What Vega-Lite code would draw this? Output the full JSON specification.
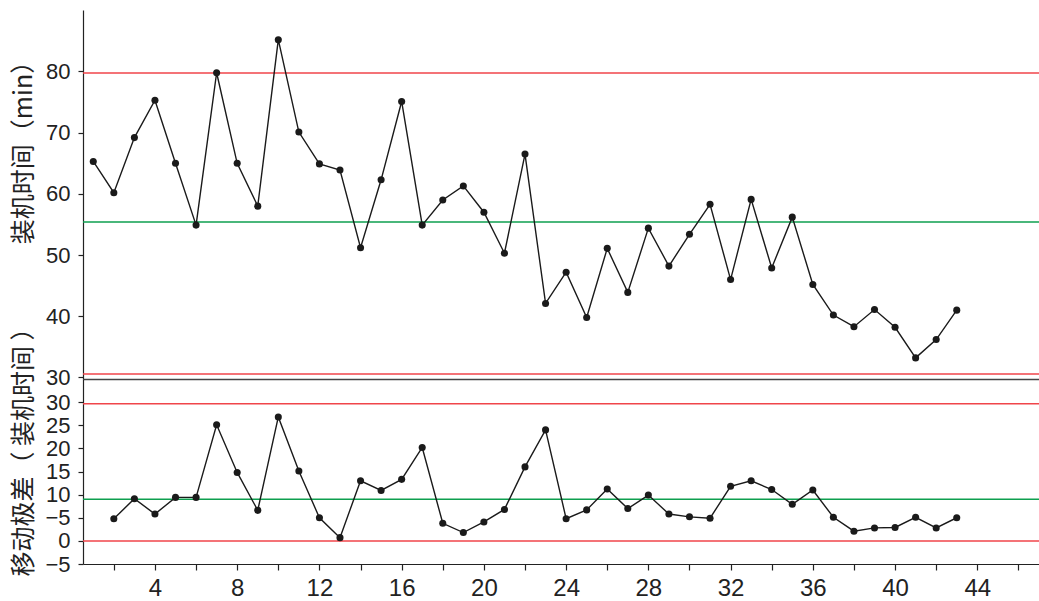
{
  "$schema": "https://vega.github.io/schema/vega-lite/v6.json",
  "padding": {"left": 10, "top": 10, "right": 0, "bottom": 0},
  "background": "white",
  "config": {
    "view": {"stroke": null},
    "font": "Liberation Sans",
    "axis": {
      "grid": false,
      "labelFont": "Liberation Sans",
      "labelFontSize": 22,
      "labelColor": "#222222",
      "labelOverlap": false,
      "domainColor": "#222222",
      "tickColor": "#222222",
      "domainWidth": 1.2,
      "tickWidth": 1.2,
      "titleFont": "Noto Sans CJK SC",
      "titleFontSize": 25,
      "titleFontWeight": "normal",
      "titleColor": "#222222"
    }
  },
  "datasets": {
    "I": [
      {"x": 1, "value": 65.3}, {"x": 2, "value": 60.2}, {"x": 3, "value": 69.2}, {"x": 4, "value": 75.3},
      {"x": 5, "value": 65.0}, {"x": 6, "value": 54.9}, {"x": 7, "value": 79.8}, {"x": 8, "value": 65.0},
      {"x": 9, "value": 58.0}, {"x": 10, "value": 85.2}, {"x": 11, "value": 70.1}, {"x": 12, "value": 64.9},
      {"x": 13, "value": 63.9}, {"x": 14, "value": 51.2}, {"x": 15, "value": 62.3}, {"x": 16, "value": 75.1},
      {"x": 17, "value": 54.9}, {"x": 18, "value": 59.0}, {"x": 19, "value": 61.3}, {"x": 20, "value": 57.0},
      {"x": 21, "value": 50.3}, {"x": 22, "value": 66.5}, {"x": 23, "value": 42.1}, {"x": 24, "value": 47.2},
      {"x": 25, "value": 39.8}, {"x": 26, "value": 51.1}, {"x": 27, "value": 43.9}, {"x": 28, "value": 54.4},
      {"x": 29, "value": 48.2}, {"x": 30, "value": 53.4}, {"x": 31, "value": 58.3}, {"x": 32, "value": 46.0},
      {"x": 33, "value": 59.1}, {"x": 34, "value": 47.9}, {"x": 35, "value": 56.2}, {"x": 36, "value": 45.2},
      {"x": 37, "value": 40.2}, {"x": 38, "value": 38.3}, {"x": 39, "value": 41.1}, {"x": 40, "value": 38.2},
      {"x": 41, "value": 33.2}, {"x": 42, "value": 36.2}, {"x": 43, "value": 41.0}
    ],
    "MR": [
      {"x": 2, "value": 4.8}, {"x": 3, "value": 9.1}, {"x": 4, "value": 5.8}, {"x": 5, "value": 9.4},
      {"x": 6, "value": 9.4}, {"x": 7, "value": 25.1}, {"x": 8, "value": 14.8}, {"x": 9, "value": 6.6},
      {"x": 10, "value": 26.8}, {"x": 11, "value": 15.1}, {"x": 12, "value": 5.0}, {"x": 13, "value": 0.7},
      {"x": 14, "value": 13.0}, {"x": 15, "value": 10.9}, {"x": 16, "value": 13.3}, {"x": 17, "value": 20.2},
      {"x": 18, "value": 3.8}, {"x": 19, "value": 1.8}, {"x": 20, "value": 4.1}, {"x": 21, "value": 6.8},
      {"x": 22, "value": 16.0}, {"x": 23, "value": 24.0}, {"x": 24, "value": 4.8}, {"x": 25, "value": 6.7},
      {"x": 26, "value": 11.2}, {"x": 27, "value": 7.0}, {"x": 28, "value": 9.9}, {"x": 29, "value": 5.8},
      {"x": 30, "value": 5.2}, {"x": 31, "value": 4.9}, {"x": 32, "value": 11.8}, {"x": 33, "value": 13.0},
      {"x": 34, "value": 11.1}, {"x": 35, "value": 7.9}, {"x": 36, "value": 11.0}, {"x": 37, "value": 5.1},
      {"x": 38, "value": 2.1}, {"x": 39, "value": 2.8}, {"x": 40, "value": 2.9}, {"x": 41, "value": 5.1},
      {"x": 42, "value": 2.8}, {"x": 43, "value": 5.0}
    ],
    "limitsI": [
      {"kind": "UCL", "value": 79.75}, {"kind": "CL", "value": 55.4}, {"kind": "LCL", "value": 30.57}
    ],
    "limitsMR": [
      {"kind": "UCL", "value": 29.66}, {"kind": "CL", "value": 9.0}, {"kind": "LCL", "value": 0}
    ]
  },
  "bounds": "flush",
  "spacing": 0,
  "resolve": {"scale": {"y": "independent"}},
  "vconcat": [
    {
      "width": 957,
      "height": 369,
      "encoding": {
        "y": {
          "field": "value", "type": "quantitative",
          "scale": {"domain": [29.75, 90.05], "nice": false, "zero": false},
          "axis": {
            "values": [30, 40, 50, 60, 70, 80],
            "title": "装机时间（min）",
            "titleAngle": 270,
            "titleBaseline": "middle",
            "titleAlign": "center",
            "titleX": -60,
            "titleY": 136,
            "tickSize": 5,
            "labelPadding": 8
          }
        }
      },
      "layer": [
        {
          "data": {"name": "limitsI"},
          "mark": {"type": "rule", "strokeWidth": 1.6},
          "encoding": {
            "color": {
              "field": "kind", "type": "nominal",
              "scale": {"domain": ["UCL", "CL", "LCL"], "range": ["#f0454a", "#0e9f4f", "#f0454a"]},
              "legend": null
            }
          }
        },
        {
          "data": {"name": "I"},
          "mark": {"type": "line", "color": "#1a1a1a", "strokeWidth": 1.4,
                   "point": {"filled": true, "size": 50, "color": "#1a1a1a", "opacity": 1}},
          "encoding": {
            "x": {
              "field": "x", "type": "quantitative",
              "scale": {"domain": [0.5, 47.05], "nice": false, "zero": false},
              "axis": {"labels": false, "ticks": false, "title": null, "domainColor": "#444444", "domainWidth": 1.5}
            }
          }
        }
      ]
    },
    {
      "width": 957,
      "height": 185,
      "encoding": {
        "y": {
          "field": "value", "type": "quantitative",
          "scale": {"domain": [-5, 35], "nice": false, "zero": false},
          "axis": {
            "values": [-5, 0, 5, 10, 15, 20, 25, 30],
            "labelExpr": "datum.value == 5 ? '−5' : datum.label",
            "title": "移动极差（ 装机时间 ）",
            "titleAngle": 270,
            "titleBaseline": "middle",
            "titleAlign": "center",
            "titleX": -60,
            "titleY": 66.5,
            "tickSize": 5,
            "labelPadding": 8
          }
        }
      },
      "layer": [
        {
          "data": {"name": "limitsMR"},
          "mark": {"type": "rule", "strokeWidth": 1.5},
          "encoding": {
            "color": {
              "field": "kind", "type": "nominal",
              "scale": {"domain": ["UCL", "CL", "LCL"], "range": ["#f0454a", "#0e9f4f", "#f0454a"]},
              "legend": null
            }
          }
        },
        {
          "data": {"name": "MR"},
          "mark": {"type": "line", "color": "#1a1a1a", "strokeWidth": 1.4,
                   "point": {"filled": true, "size": 50, "color": "#1a1a1a", "opacity": 1}},
          "encoding": {
            "x": {
              "field": "x", "type": "quantitative",
              "scale": {"domain": [0.5, 47.05], "nice": false, "zero": false},
              "axis": {
                "values": [2, 4, 6, 8, 10, 12, 14, 16, 18, 20, 22, 24, 26, 28, 30, 32, 34, 36, 38, 40, 42, 44, 46],
                "labelExpr": "datum.value % 4 == 0 ? datum.label : ''",
                "title": null,
                "tickSize": 6,
                "labelPadding": 6,
                "labelFontSize": 24,
                "labelFlush": false,
                "labelOverlap": false
              }
            }
          }
        }
      ]
    }
  ]
}
